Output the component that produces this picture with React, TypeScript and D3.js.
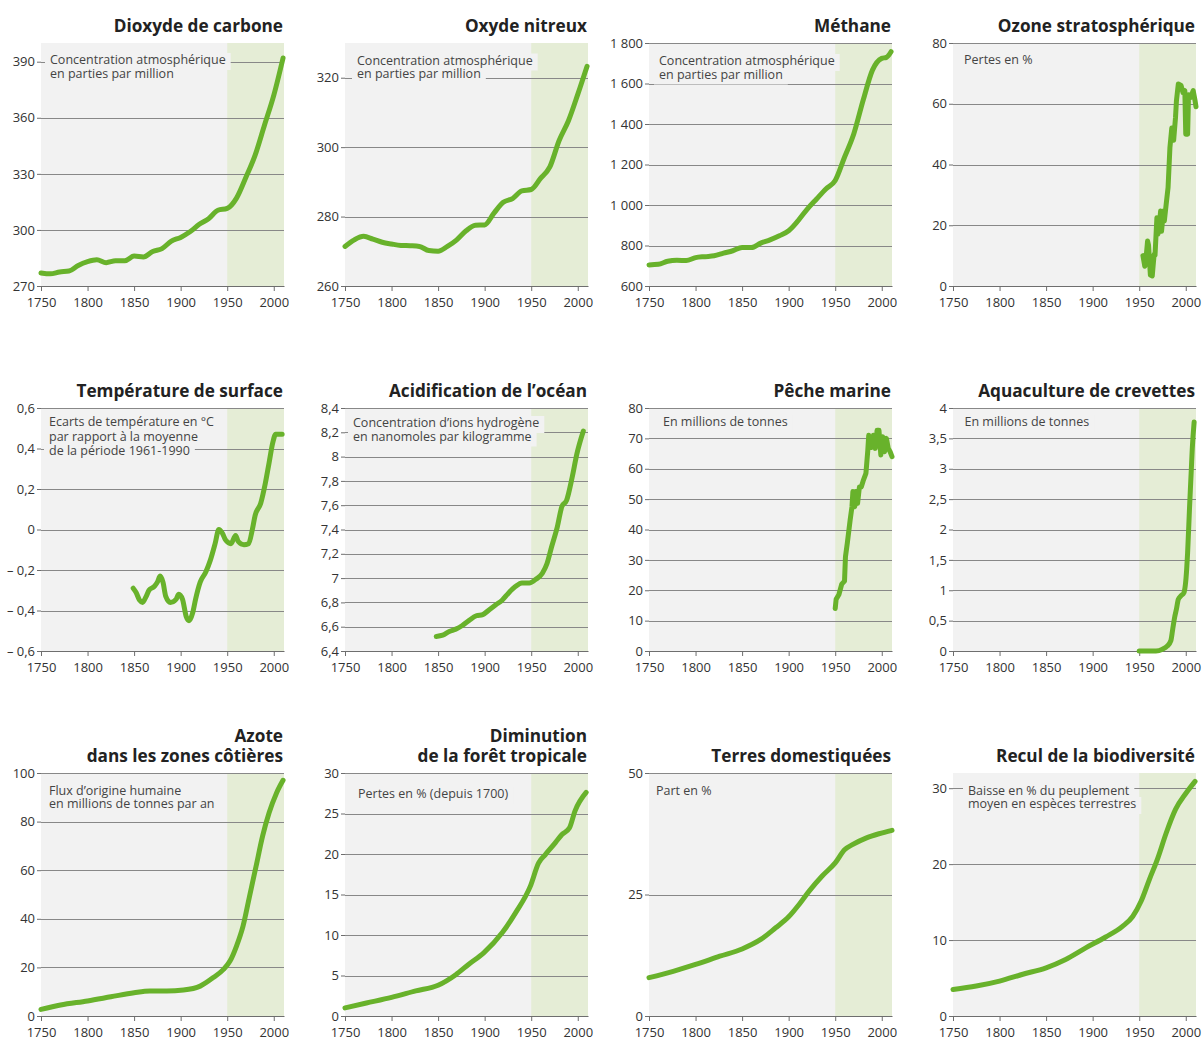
import { useEffect, useRef } from "react"
import * as d3 from "d3"

type Pt = [number, number]

const xTicks = [1750, 1800, 1850, 1900, 1950, 2000]

// values, [year, value]
const co2: Pt[] = [
  [1750, 277], [1760, 276.5], [1770, 277.5], [1780, 278], [1790, 281], [1800, 283], [1810, 284],
  [1820, 282.5], [1830, 283.5], [1840, 283.5], [1850, 286], [1860, 285.5], [1870, 288.5], [1880, 290],
  [1890, 294], [1900, 296], [1910, 299], [1920, 303], [1930, 306], [1940, 310.5], [1950, 311.5],
  [1960, 317], [1970, 328], [1980, 340], [1990, 356], [2000, 372], [2010, 392],
]
const n2o: Pt[] = [
  [1750, 271.4], [1760, 273.3], [1770, 274.3], [1780, 273.5], [1790, 272.6], [1800, 272.1], [1810, 271.7],
  [1820, 271.6], [1830, 271.4], [1840, 270.2], [1850, 270], [1860, 271.4], [1870, 273.3], [1880, 275.9],
  [1890, 277.5], [1900, 277.6], [1910, 281], [1920, 284.1], [1930, 285.2], [1940, 287.4], [1950, 287.8],
  [1960, 291], [1970, 294.3], [1980, 301.9], [1990, 307.6], [2000, 315.2], [2010, 323.3],
]
const ch4: Pt[] = [
  [1750, 704], [1760, 707], [1770, 722], [1780, 727], [1790, 726], [1800, 740], [1810, 745], [1820, 749],
  [1830, 762], [1840, 774], [1850, 790], [1860, 790], [1870, 812], [1880, 828], [1890, 848], [1900, 873],
  [1910, 922], [1920, 980], [1930, 1030], [1940, 1079], [1950, 1121], [1960, 1236], [1970, 1352],
  [1980, 1517], [1990, 1666], [2000, 1724], [2005, 1729], [2010, 1757],
]
const ozone: Pt[] = [
  [1954, 10], [1956, 6.5], [1957, 8], [1959, 14.8], [1960, 13.5], [1962, 3.6], [1964, 3.3], [1966, 10.4],
  [1967, 10.2], [1969, 22.5], [1970, 17], [1971, 18], [1973, 24.7], [1974, 18], [1976, 24.7], [1977, 21.4],
  [1979, 27], [1981, 32.4], [1983, 45.6], [1985, 52], [1987, 48], [1989, 55.5], [1990, 61], [1992, 66.5],
  [1995, 66], [1997, 63.7], [1999, 64.3], [2000, 50], [2002, 50], [2003, 63], [2005, 62], [2008, 64.3],
  [2010, 61], [2011, 59],
]
const temperature: Pt[] = [
  [1849, -0.29], [1852, -0.31], [1856, -0.35], [1859, -0.36], [1863, -0.33], [1866, -0.3], [1872, -0.28],
  [1875, -0.26], [1878, -0.23], [1881, -0.26], [1884, -0.33], [1889, -0.36], [1895, -0.345], [1898, -0.32],
  [1902, -0.345], [1906, -0.43], [1909, -0.45], [1913, -0.41], [1916, -0.345], [1921, -0.26], [1927, -0.21],
  [1932, -0.15], [1937, -0.07], [1941, 0], [1945, -0.02], [1948, -0.05], [1954, -0.07], [1959, -0.03],
  [1962, -0.06], [1968, -0.075], [1973, -0.07], [1977, 0], [1980, 0.07], [1986, 0.13], [1991, 0.23],
  [1995, 0.33], [1999, 0.43], [2002, 0.47], [2009, 0.47],
]
const acidity: Pt[] = [
  [1848, 6.52], [1855, 6.53], [1862, 6.56], [1869, 6.58], [1876, 6.61], [1883, 6.65], [1891, 6.69],
  [1898, 6.7], [1905, 6.74], [1912, 6.78], [1919, 6.82], [1926, 6.88], [1933, 6.93], [1940, 6.96],
  [1948, 6.96], [1955, 6.99], [1962, 7.04], [1967, 7.12], [1972, 7.26], [1978, 7.42], [1983, 7.59],
  [1988, 7.64], [1994, 7.83], [1999, 8.02], [2006, 8.21],
]
const fishing: Pt[] = [
  [1950, 14], [1951, 17], [1954, 18.6], [1957, 22], [1960, 23], [1961, 31], [1963, 35.5], [1966, 43],
  [1968, 47.5], [1969, 52.5], [1971, 47.5], [1972, 52.5], [1974, 48.6], [1976, 54], [1978, 54], [1980, 56],
  [1983, 58.5], [1985, 66], [1986, 71], [1989, 67], [1991, 71], [1993, 66.7], [1995, 72.7], [1997, 72.7],
  [1999, 64.5], [2001, 70.5], [2003, 65.6], [2005, 70], [2007, 66.7], [2009, 65.6], [2011, 64],
]
const shrimp: Pt[] = [
  [1950, 0], [1968, 0], [1975, 0.03], [1980, 0.08], [1984, 0.17], [1986, 0.36], [1988, 0.55], [1990, 0.69],
  [1992, 0.85], [1995, 0.91], [1998, 0.96], [2001, 1.35], [2002, 1.62], [2004, 2.34], [2006, 3.0],
  [2007, 3.33], [2009, 3.77],
]
const nitrogen: Pt[] = [
  [1750, 2.7], [1771, 4.5], [1800, 6.2], [1825, 7.9], [1850, 9.6], [1867, 10.3], [1885, 10.3], [1903, 10.7],
  [1921, 12.3], [1935, 15.8], [1946, 19.2], [1953, 22.6], [1960, 28.8], [1967, 37], [1974, 49.3],
  [1981, 61.6], [1988, 74], [1995, 83.6], [2003, 91.8], [2010, 97],
]
const forest: Pt[] = [
  [1750, 1.0], [1773, 1.6], [1800, 2.3], [1826, 3.1], [1850, 3.8], [1869, 5.1], [1883, 6.4], [1899, 7.8],
  [1919, 10.3], [1933, 12.7], [1949, 16], [1958, 18.9], [1965, 19.9], [1976, 21.4], [1983, 22.4],
  [1991, 23.2], [1997, 25.3], [2009, 27.6],
]
const land: Pt[] = [
  [1750, 7.9], [1776, 9.2], [1800, 10.6], [1826, 12.3], [1850, 13.8], [1870, 15.75], [1886, 18.15],
  [1900, 20.4], [1911, 22.9], [1922, 25.7], [1936, 28.8], [1950, 31.5], [1960, 34.2], [1969, 35.3],
  [1983, 36.6], [1997, 37.5], [2011, 38.2],
]
const biodiversity: Pt[] = [
  [1750, 3.5], [1775, 3.95], [1800, 4.6], [1825, 5.5], [1850, 6.35], [1871, 7.45], [1893, 9.0], [1914, 10.4],
  [1932, 11.8], [1943, 13.1], [1952, 15.1], [1961, 18], [1970, 20.8], [1979, 24.1], [1989, 27.2],
  [2000, 29.3], [2010, 30.9],
]

const co2Ticks = [270, 300, 330, 360, 390]
const n2oTicks = [260, 280, 300, 320]
const ch4Ticks = [600, 800, 1000, 1200, 1400, 1600, 1800]
const ozoneTicks = [0, 20, 40, 60, 80]
const temperatureTicks = [-0.6, -0.4, -0.2, 0, 0.2, 0.4, 0.6]
const acidityTicks = [6.4, 6.6, 6.8, 7, 7.2, 7.4, 7.6, 7.8, 8, 8.2, 8.4]
const fishingTicks = [0, 10, 20, 30, 40, 50, 60, 70, 80]
const shrimpTicks = [0, 0.5, 1, 1.5, 2, 2.5, 3, 3.5, 4]
const nitrogenTicks = [0, 20, 40, 60, 80, 100]
const forestTicks = [0, 5, 10, 15, 20, 25, 30]
const landTicks = [0, 25, 50]
const biodiversityTicks = [0, 10, 20, 30]

const colLeft = [41, 345, 649, 953]
const rowTop = [43, 408, 773]
const W = 243
const H = 243

const panels = [
  { col: 0, row: 0, title: ["Dioxyde de carbone"], note: ["Concentration atmosphérique", "en parties par million"], nx: 9, ny: 21, domain: [270, 400], ticks: co2Ticks, data: co2, smooth: true },
  { col: 1, row: 0, title: ["Oxyde nitreux"], note: ["Concentration atmosphérique", "en parties par million"], nx: 12, ny: 21.5, domain: [260, 330], ticks: n2oTicks, data: n2o, smooth: true },
  { col: 2, row: 0, title: ["Méthane"], note: ["Concentration atmosphérique", "en parties par million"], nx: 10, ny: 22, domain: [600, 1800], ticks: ch4Ticks, data: ch4, smooth: true },
  { col: 3, row: 0, title: ["Ozone stratosphérique"], note: ["Pertes en %"], nx: 11, ny: 20.5, domain: [0, 80], ticks: ozoneTicks, data: ozone, smooth: false },
  { col: 0, row: 1, title: ["Température de surface"], note: ["Ecarts de température en °C", "par rapport à la moyenne", "de la période 1961-1990"], nx: 8, ny: 18, domain: [-0.6, 0.6], ticks: temperatureTicks, data: temperature, smooth: true },
  { col: 1, row: 1, title: ["Acidification de l’océan"], note: ["Concentration d’ions hydrogène", "en nanomoles par kilogramme"], nx: 8, ny: 19, domain: [6.4, 8.4], ticks: acidityTicks, data: acidity, smooth: true },
  { col: 2, row: 1, title: ["Pêche marine"], note: ["En millions de tonnes"], nx: 14, ny: 18, domain: [0, 80], ticks: fishingTicks, data: fishing, smooth: false },
  { col: 3, row: 1, title: ["Aquaculture de crevettes"], note: ["En millions de tonnes"], nx: 11.5, ny: 18, domain: [0, 4], ticks: shrimpTicks, data: shrimp, smooth: true },
  { col: 0, row: 2, title: ["Azote", "dans les zones côtières"], note: ["Flux d’origine humaine", "en millions de tonnes par an"], nx: 8, ny: 21.5, domain: [0, 100], ticks: nitrogenTicks, data: nitrogen, smooth: true },
  { col: 1, row: 2, title: ["Diminution", "de la forêt tropicale"], note: ["Pertes en % (depuis 1700)"], nx: 13, ny: 25, domain: [0, 30], ticks: forestTicks, data: forest, smooth: true },
  { col: 2, row: 2, title: ["Terres domestiquées"], note: ["Part en %"], nx: 7, ny: 21.5, domain: [0, 50], ticks: landTicks, data: land, smooth: true },
  { col: 3, row: 2, title: ["Recul de la biodiversité"], note: ["Baisse en % du peuplement", "moyen en espèces terrestres"], nx: 15, ny: 21.5, domain: [0, 32], ticks: biodiversityTicks, data: biodiversity, smooth: true },
]

const FONT = "'Open Sans', 'Noto Sans', sans-serif"
const PLOT_BG = "#f2f2f2"
const BAND_BG = "#e5edd6"
const GREEN = "#68b22b"
const GRID = "#888"

function frNumber(v: number) {
  const a = Math.abs(v)
  const s = a >= 1000 ? d3.format(",")(a).replace(",", " ") : String(+a.toFixed(2)).replace(".", ",")
  return v < 0 ? "– " + s : s
}

export default function App() {
  const svgRef = useRef<SVGSVGElement>(null)

  useEffect(() => {
    if (!svgRef.current) return
    const svg = d3.select(svgRef.current)
    svg.selectAll("*").remove()

    svg.append("rect").attr("width", 1203).attr("height", 1043).attr("fill", "#fff")

    panels.forEach((p) => {
      const left = colLeft[p.col]
      const top = rowTop[p.row]
      const x = d3.scaleLinear().domain([1750, 2011]).range([left, left + W])
      const y = d3.scaleLinear().domain(p.domain).range([top + H, top])
      const g = svg.append("g").attr("font-family", FONT)

      // backgrounds
      g.append("rect").attr("x", left).attr("y", top).attr("width", W).attr("height", H).attr("fill", PLOT_BG)
      g.append("rect")
        .attr("x", x(1950))
        .attr("y", top)
        .attr("width", left + W - x(1950))
        .attr("height", H)
        .attr("fill", BAND_BG)

      // grid
      g.selectAll("line.grid")
        .data(p.ticks.filter((t) => t !== p.domain[0]))
        .join("line")
        .attr("class", "grid")
        .attr("x1", left)
        .attr("x2", left + W)
        .attr("y1", (d) => Math.round(y(d)) + 0.5)
        .attr("y2", (d) => Math.round(y(d)) + 0.5)
        .attr("stroke", GRID)
        .attr("stroke-width", 1)

      // note: one text with a tspan per line, bg rects break the grid lines
      const gap = p.note.length > 2 ? 14.5 : 13.5
      const rects = g.append("g")
      const note = g
        .append("text")
        .attr("font-size", 12.5)
        .attr("fill", "#444")
      p.note.forEach((line, i) => {
        const by = top + p.ny + i * gap
        const ts = note.append("tspan").attr("x", left + p.nx).attr("y", by).text(line)
        const w = (ts.node() as SVGTSpanElement).getComputedTextLength()
        rects.append("rect")
          .attr("x", left + p.nx - 5)
          .attr("y", by - 11)
          .attr("width", w + 10)
          .attr("height", 17)
          .attr("fill", PLOT_BG)
      })

      // axes
      const xa = g
        .append("g")
        .attr("transform", `translate(0,${top + H})`)
        .call(d3.axisBottom(x).tickValues(xTicks).tickSize(5).tickSizeOuter(0).tickPadding(7).tickFormat(d3.format("d")))
      xa.select(".domain").attr("stroke", "#6e6e6e")
      xa.selectAll(".tick line").attr("stroke", "#6e6e6e")
      xa.selectAll("text").attr("font-size", 13).attr("fill", "#333").attr("font-family", FONT)

      const ya = g
        .append("g")
        .attr("transform", `translate(${left},0)`)
        .call(d3.axisLeft(y).tickValues(p.ticks).tickSize(4).tickPadding(2).tickFormat((d) => frNumber(+d)))
      ya.select(".domain").remove()
      ya.selectAll(".tick line").attr("stroke", "#6e6e6e")
      ya.selectAll("text").attr("font-size", 13).attr("fill", "#333").attr("font-family", FONT)

      // series
      const line = d3
        .line<Pt>()
        .x((d) => x(d[0]))
        .y((d) => y(d[1]))
        .curve(p.smooth ? d3.curveMonotoneX : d3.curveLinear)
      g.append("path")
        .datum(p.data)
        .attr("d", line)
        .attr("fill", "none")
        .attr("stroke", GREEN)
        .attr("stroke-width", 5)
        .attr("stroke-linejoin", "round")
        .attr("stroke-linecap", "round")

      // title, one text element (tspans for two-line titles)
      const n = p.title.length
      const title = g
        .append("text")
        .attr("text-anchor", "end")
        .attr("font-size", 17.2)
        .attr("font-weight", "bold")
        .attr("fill", "#222")
      p.title.forEach((tl, i) => {
        title.append("tspan")
          .attr("x", left + W - 1)
          .attr("y", top - 11.5 - (n - 1 - i) * 19.5)
          .text(tl)
      })
    })
  }, [])

  return (
    <div style={{ position: "absolute", left: 0, top: 0 }}>
      <svg ref={svgRef} width={1203} height={1043} style={{ display: "block" }} />
    </div>
  )
}
